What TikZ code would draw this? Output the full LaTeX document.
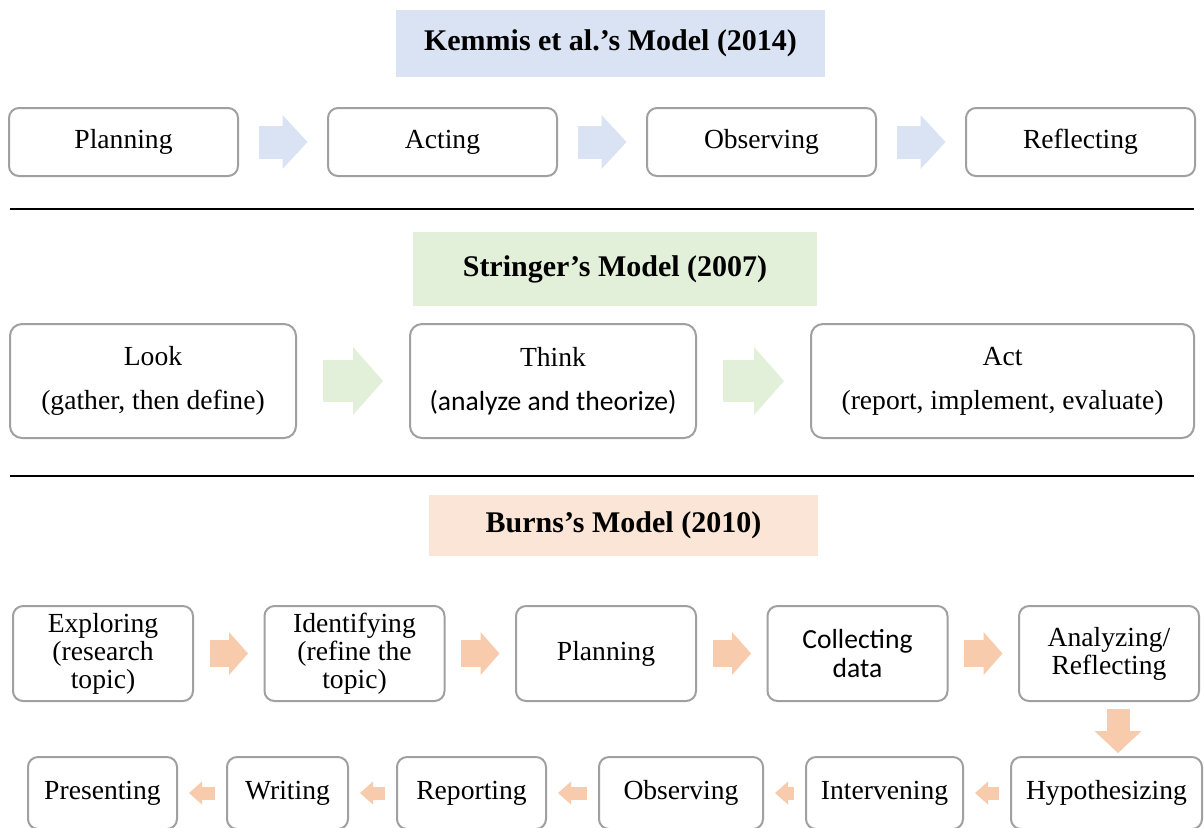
\documentclass[tikz,border=0pt]{standalone}
\usepackage{fontspec}
\setmainfont{Liberation Serif}
\newfontfamily\calibri{Carlito}
\usetikzlibrary{arrows.meta,positioning}

\definecolor{kemblue}{HTML}{DAE3F3}
\definecolor{strgreen}{HTML}{E2F0D9}
\definecolor{burpeach}{HTML}{FBE5D6}
\definecolor{burarrow}{HTML}{F8CBAD}
\definecolor{boxgray}{HTML}{A0A0A0}

\begin{document}
\begin{tikzpicture}[
  x=0.5pt, y=-0.5pt,
  font=\fontsize{13.8}{16}\selectfont,
  % Node styles
  title/.style={rectangle, draw=none, inner sep=0pt, font=\fontsize{15}{18}\selectfont\bfseries},
  stage/.style={rectangle, rounded corners=5pt, draw=boxgray, line width=1pt, fill=white, inner sep=2pt, outer sep=0pt, align=center},
  kemstage/.style={stage, minimum width=114.5pt, minimum height=34pt},
  strstage/.style={stage, rounded corners=6pt, minimum width=143pt, minimum height=57pt, font=\fontsize{13.8}{22}\selectfont},
  burstage/.style={stage, minimum width=90pt, minimum height=47.5pt, font=\fontsize{13.8}{14}\selectfont},
  backstage/.style={stage, minimum height=36pt},
  % Block arrows
  kemarr/.style={draw=kemblue, line width=16.5pt, -{Triangle[length=12.5pt, width=27pt, line width=0pt]}, shorten <=10.25pt, shorten >=10.25pt},
  strarr/.style={draw=strgreen, line width=21pt, -{Triangle[length=15pt, width=34pt, line width=0pt]}, shorten <=13.5pt, shorten >=13.5pt},
  burarr/.style={draw=burarrow, line width=13.5pt, -{Triangle[length=9.5pt, width=21.5pt, line width=0pt]}, shorten <=8.25pt, shorten >=8.25pt},
  burdown/.style={draw=burarrow, line width=11.5pt, -{Triangle[length=11pt, width=23.5pt, line width=0pt]}, shorten <=4pt, shorten >=2pt},
  burback/.style={draw=burarrow, line width=6.5pt, -{Triangle[length=6.5pt, width=11.5pt, line width=0pt]}, shorten <=6pt, shorten >=6pt},
  sep/.style={draw=black, line width=0.6pt}
]

  \useasboundingbox[fill=white] (0,0) rectangle (1204,827);
  \clip (0,0) rectangle (1204,827);

  % Kemmis et al.'s model
  \node[title, fill=kemblue, minimum width=214.5pt, minimum height=33.5pt] (kemtitle) at (610.5,43.5) {Kemmis et al.’s Model (2014)};
  \node[kemstage] (kplan) at (123.5,142) {Planning};
  \node[kemstage, right=45pt of kplan] (kact) {Acting};
  \node[kemstage, right=45pt of kact] (kobs) {Observing};
  \node[kemstage, right=45pt of kobs] (kref) {Reflecting};

  \draw[kemarr] (kplan) -- (kact);
  \draw[kemarr] (kact) -- (kobs);
  \draw[kemarr] (kobs) -- (kref);

  \draw[sep] (10,209) -- (1194,209);

  % Stringer's model
  \node[title, fill=strgreen, minimum width=202pt, minimum height=37pt] (strtitle) at (615,269) {Stringer’s Model (2007)};
  \node[strstage] (slook) at (153,381) {Look\\(gather, then define)};
  \node[strstage, right=57pt of slook] (sthink) {Think\\{\calibri (analyze and theorize)}};
  \node[strstage, minimum width=191.5pt, right=57.5pt of sthink] (sact) {Act\\(report, implement, evaluate)};

  \draw[strarr] (slook) -- (sthink);
  \draw[strarr] (sthink) -- (sact);

  \draw[sep] (10,476) -- (1194,476);

  % Burns's model
  \node[title, fill=burpeach, minimum width=194.5pt, minimum height=30.5pt] (burtitle) at (623.5,525.5) {Burns’s Model (2010)};
  \node[burstage] (bexp) at (103,653.5) {Exploring\\(research\\topic)};
  \node[burstage, right=35.75pt of bexp] (bident) {Identifying\\(refine the\\topic)};
  \node[burstage, right=35.75pt of bident] (bplan) {Planning};
  \node[burstage, right=35.75pt of bplan, font=\fontsize{13.8}{14.5}\selectfont\calibri] (bcoll) {Collecting\\data};
  \node[burstage, right=35.75pt of bcoll] (bana) {Analyzing/\\Reflecting};

  \node[backstage, minimum width=95.5pt] (bhyp) at (1106.5,793) {Hypothesizing};
  \node[backstage, minimum width=78.5pt] (bint) at (884.5,793) {Intervening};
  \node[backstage, minimum width=82pt] (bobs) at (681,793) {Observing};
  \node[backstage, minimum width=74.5pt] (brep) at (471.5,793) {Reporting};
  \node[backstage, minimum width=60.5pt] (bwrit) at (287.5,793) {Writing};
  \node[backstage, minimum width=74.5pt] (bpres) at (102.5,793) {Presenting};

  \draw[burarr] (bexp) -- (bident);
  \draw[burarr] (bident) -- (bplan);
  \draw[burarr] (bplan) -- (bcoll);
  \draw[burarr] (bcoll) -- (bana);
  \draw[burdown] ([xshift=4.5pt]bana.south) -- ([xshift=4.5pt]bana.south |- bhyp.north);
  \draw[burback] (bhyp) -- (bint);
  \draw[burback] (bint) -- (bobs);
  \draw[burback] (bobs) -- (brep);
  \draw[burback] (brep) -- (bwrit);
  \draw[burback] (bwrit) -- (bpres);

\end{tikzpicture}
\end{document}
